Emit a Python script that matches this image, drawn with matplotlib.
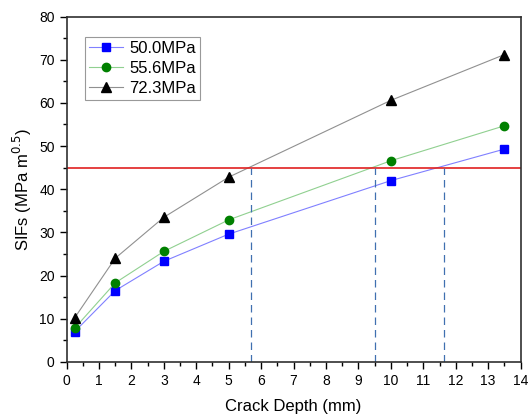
import matplotlib
matplotlib.use('Agg')
from matplotlib import pyplot as plt
from matplotlib.ticker import MultipleLocator

plt.rcParams['font.family'] = ['Liberation Sans', 'DejaVu Sans']

# crack depth (mm)
depth = [0.25, 1.5, 3, 5, 10, 13.5]

# SIFs for each stress level
sif_50 = [7.0, 16.5, 23.3, 29.6, 42.0, 49.3]
sif_556 = [7.8, 18.3, 25.6, 32.9, 46.6, 54.7]
sif_723 = [10.2, 24.0, 33.5, 42.8, 60.6, 71.2]

labels = ['50.0MPa', '55.6MPa', '72.3MPa']

# critical SIF and the depths where each curve crosses it
k_crit = 45
crit_depths = [5.7, 9.5, 11.65]

fig = plt.figure(figsize=(5.28, 4.15), dpi=100)
ax = fig.add_axes([0.126, 0.128, 0.860, 0.832])

ax.plot(depth, sif_50, color='#8080ff', lw=0.8, marker='s', ms=6,
        mfc='#0000ff', mec='#0000ff', label=labels[0])
ax.plot(depth, sif_556, color='#90d090', lw=0.8, marker='o', ms=6,
        mfc='#008000', mec='#008000', label=labels[1])
ax.plot(depth, sif_723, color='#909090', lw=0.8, marker='^', ms=7,
        mfc='black', mec='black', label=labels[2])

ax.axhline(k_crit, color='#e02020', lw=1.2)
for d in crit_depths:
    ax.plot([d, d], [0, k_crit], color='#4070b0', lw=0.9, ls=(0, (6, 4)))

ax.set_xlim(0, 14)
ax.set_ylim(0, 80)
ax.xaxis.set_major_locator(MultipleLocator(1))
ax.xaxis.set_minor_locator(MultipleLocator(0.5))
ax.yaxis.set_major_locator(MultipleLocator(10))
ax.yaxis.set_minor_locator(MultipleLocator(5))
ax.tick_params(which='major', direction='out', length=5, width=1, labelsize=10)
ax.tick_params(which='minor', direction='out', length=3, width=1)
for s in ax.spines.values():
    s.set_linewidth(1.2)
    s.set_color('#303030')

ax.set_xlabel('Crack Depth (mm)', fontsize=12, labelpad=8)
ax.set_ylabel('SIFs (MPa m$^{0.5}$)', fontsize=12)

leg = ax.legend(loc='upper left', bbox_to_anchor=(0.041, 0.941), fontsize=12,
                fancybox=False, edgecolor='#808080', handlelength=2.0,
                borderpad=0.25, borderaxespad=0, labelspacing=0.3,
                handletextpad=0.4)
leg.get_frame().set_linewidth(0.8)

fig.savefig('out.png', dpi=100)
